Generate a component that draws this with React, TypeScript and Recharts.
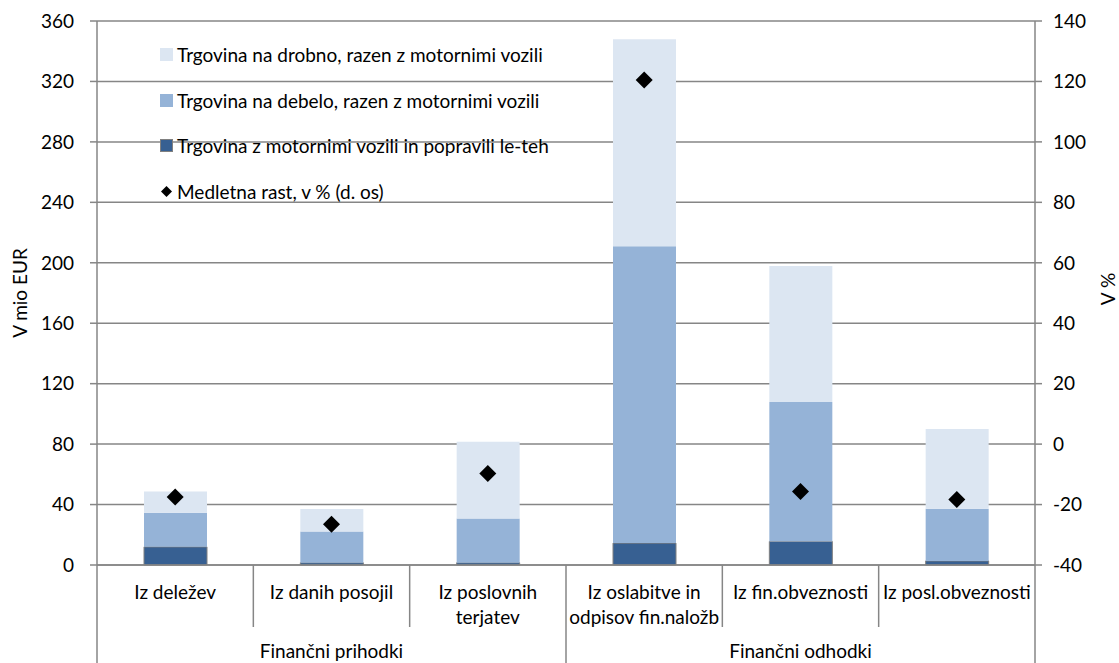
import React from "react";
import {
  ComposedChart,
  Bar,
  Line,
  XAxis,
  YAxis,
  CartesianGrid,
  Legend,
} from "recharts";

// categories and their wrapped labels
const categories = [
  "Iz deležev",
  "Iz danih posojil",
  "Iz poslovnih terjatev",
  "Iz oslabitve in odpisov fin.naložb",
  "Iz fin.obveznosti",
  "Iz posl.obveznosti",
];
const categoryLines = [
  ["Iz deležev"],
  ["Iz danih posojil"],
  ["Iz poslovnih", "terjatev"],
  ["Iz oslabitve in", "odpisov fin.naložb"],
  ["Iz fin.obveznosti"],
  ["Iz posl.obveznosti"],
];
const groupNames = ["Finančni prihodki", "Finančni odhodki"];
const groupOf = [0, 0, 0, 1, 1, 1];

// V mio EUR
const motorVehicles = [12, 1.5, 1.5, 14.5, 15.6, 2.7];
const wholesale = [22.6, 20.6, 29.3, 196.4, 92.2, 34.5];
const retail = [14.1, 15, 50.8, 137.1, 90, 52.8];
// medletna rast, v % (right axis)
const growth = [-17.5, -26.5, -9.7, 120.5, -15.7, -18.3];

const leftTicks = [0, 40, 80, 120, 160, 200, 240, 280, 320, 360];
const rightTicks = [-40, -20, 0, 20, 40, 60, 80, 100, 120, 140];

const legendItems = [
  { label: "Trgovina na drobno, razen z motornimi vozili", color: "#DCE6F2", kind: "box" },
  { label: "Trgovina na debelo, razen z motornimi vozili", color: "#95B3D7", kind: "box" },
  { label: "Trgovina z motornimi vozili in popravili le-teh", color: "#376092", kind: "boxBorder" },
  { label: "Medletna rast, v % (d. os)", color: "#000000", kind: "diamond" },
];

const data = categories.map((name, i) => ({
  name,
  motor: motorVehicles[i],
  wholesale: wholesale[i],
  retail: retail[i],
  growth: growth[i],
}));

const GRAY = "#868686";
const FONT = "Lato, 'Open Sans', sans-serif";
const FS = 19;

const Diamond = (props: any) => {
  const { cx, cy } = props;
  if (cx == null || cy == null) return null;
  const r = 8.5;
  return (
    <path
      d={`M${cx},${cy - r} L${cx + r},${cy} L${cx},${cy + r} L${cx - r},${cy} Z`}
      fill="#000"
    />
  );
};

const CategoryTick = (props: any) => {
  const { x, y, payload, index } = props;
  const half = payload?.offset ?? 78;
  const lines = categoryLines[index] || [payload.value];
  const left = x - half;
  const groupStart = index === 0 || groupOf[index] !== groupOf[index - 1];
  const isLast = index === categories.length - 1;
  let groupLabel = null;
  if (groupStart) {
    const count = groupOf.filter((g) => g === groupOf[index]).length;
    groupLabel = (
      <text
        x={left + count * half}
        y={y + 86}
        dy="0.355em"
        textAnchor="middle"
        fontSize={FS}
        fill="#000"
      >
        {groupNames[groupOf[index]]}
      </text>
    );
  }
  return (
    <g>
      {lines.map((l: string, k: number) => (
        <text
          key={k}
          x={x}
          y={y + 27 + k * 25}
          dy="0.355em"
          textAnchor="middle"
          fontSize={FS}
          fill="#000"
        >
          {l}
        </text>
      ))}
      <line
        x1={left}
        x2={left}
        y1={y}
        y2={groupStart ? y + 98 : y + 62}
        stroke={GRAY}
        strokeWidth={1.5}
      />
      {isLast && (
        <line
          x1={x + half}
          x2={x + half}
          y1={y}
          y2={y + 98}
          stroke={GRAY}
          strokeWidth={1.5}
        />
      )}
      {groupLabel}
    </g>
  );
};

const LegendContent = () => (
  <div style={{ fontFamily: FONT, fontSize: FS, color: "#000" }}>
    {legendItems.map((it) => (
      <div
        key={it.label}
        style={{ display: "flex", alignItems: "center", height: 45.5, whiteSpace: "nowrap" }}
      >
        {it.kind === "diamond" ? (
          <svg width={13} height={13} style={{ marginRight: 4 }}>
            <path d="M6.5,1 L12,6.5 L6.5,12 L1,6.5 Z" fill="#000" />
          </svg>
        ) : (
          <span
            style={{
              display: "inline-block",
              width: 13,
              height: 13,
              background: it.color,
              boxSizing: "border-box",
              border: it.kind === "boxBorder" ? "1.5px solid #808080" : "none",
              marginRight: 4,
            }}
          />
        )}
        <span>{it.label}</span>
      </div>
    ))}
  </div>
);

export default function App() {
  return (
    <div
      style={{
        position: "absolute",
        left: 0,
        top: 0,
        width: 1119,
        height: 663,
        background: "#fff",
        fontFamily: FONT,
      }}
    >
      <ComposedChart
        width={1119}
        height={663}
        data={data}
        margin={{ top: 21, right: 0, bottom: 0, left: 0 }}
        barSize={63}
        style={{ fontFamily: FONT }}
      >
        <CartesianGrid
          yAxisId="left"
          vertical={false}
          stroke={GRAY}
          strokeWidth={1.5}
        />
        <XAxis
          dataKey="name"
          interval={0}
          height={98}
          tickSize={0}
          tickMargin={0}
          tickLine={false}
          axisLine={{ stroke: GRAY, strokeWidth: 1.5 }}
          tick={<CategoryTick />}
        />
        <YAxis
          yAxisId="left"
          width={97}
          domain={[0, 360]}
          ticks={leftTicks}
          interval={0}
          tickSize={7}
          tickMargin={16}
          axisLine={{ stroke: GRAY, strokeWidth: 1.5 }}
          tickLine={{ stroke: GRAY, strokeWidth: 1.5 }}
          tick={{ fill: "#000", fontSize: FS }}
          label={(p: any) => {
            const vb = p.viewBox || {};
            const cx = 20;
            const cy = vb.y + vb.height / 2;
            return (
              <text
                x={cx}
                y={cy}
                transform={`rotate(-90 ${cx} ${cy})`}
                textAnchor="middle"
                dy="0.355em"
                fontSize={FS}
                fill="#000"
              >
                V mio EUR
              </text>
            );
          }}
        />
        <YAxis
          yAxisId="right"
          orientation="right"
          width={84}
          domain={[-40, 140]}
          ticks={rightTicks}
          interval={0}
          tickSize={7}
          tickMargin={11}
          axisLine={{ stroke: GRAY, strokeWidth: 1.5 }}
          tickLine={{ stroke: GRAY, strokeWidth: 1.5 }}
          tick={{ fill: "#000", fontSize: FS }}
          label={(p: any) => {
            const vb = p.viewBox || {};
            const cx = 1108;
            const cy = vb.y + vb.height / 2 - 4;
            return (
              <text
                x={cx}
                y={cy}
                transform={`rotate(-90 ${cx} ${cy})`}
                textAnchor="middle"
                dy="0.355em"
                fontSize={FS}
                fill="#000"
              >
                V %
              </text>
            );
          }}
        />
        <Legend
          layout="vertical"
          align="center"
          verticalAlign="middle"
          wrapperStyle={{ left: 160, top: 32, width: 440 }}
          content={<LegendContent />}
        />
        <Bar
          yAxisId="left"
          dataKey="motor"
          stackId="s"
          fill="#376092"
          stroke="#808080"
          strokeWidth={1}
          isAnimationActive={false}
        />
        <Bar
          yAxisId="left"
          dataKey="wholesale"
          stackId="s"
          fill="#95B3D7"
          isAnimationActive={false}
        />
        <Bar
          yAxisId="left"
          dataKey="retail"
          stackId="s"
          fill="#DCE6F2"
          isAnimationActive={false}
        />
        <Line
          yAxisId="right"
          dataKey="growth"
          stroke="none"
          dot={<Diamond />}
          activeDot={false}
          legendType="none"
          isAnimationActive={false}
        />
      </ComposedChart>
    </div>
  );
}
